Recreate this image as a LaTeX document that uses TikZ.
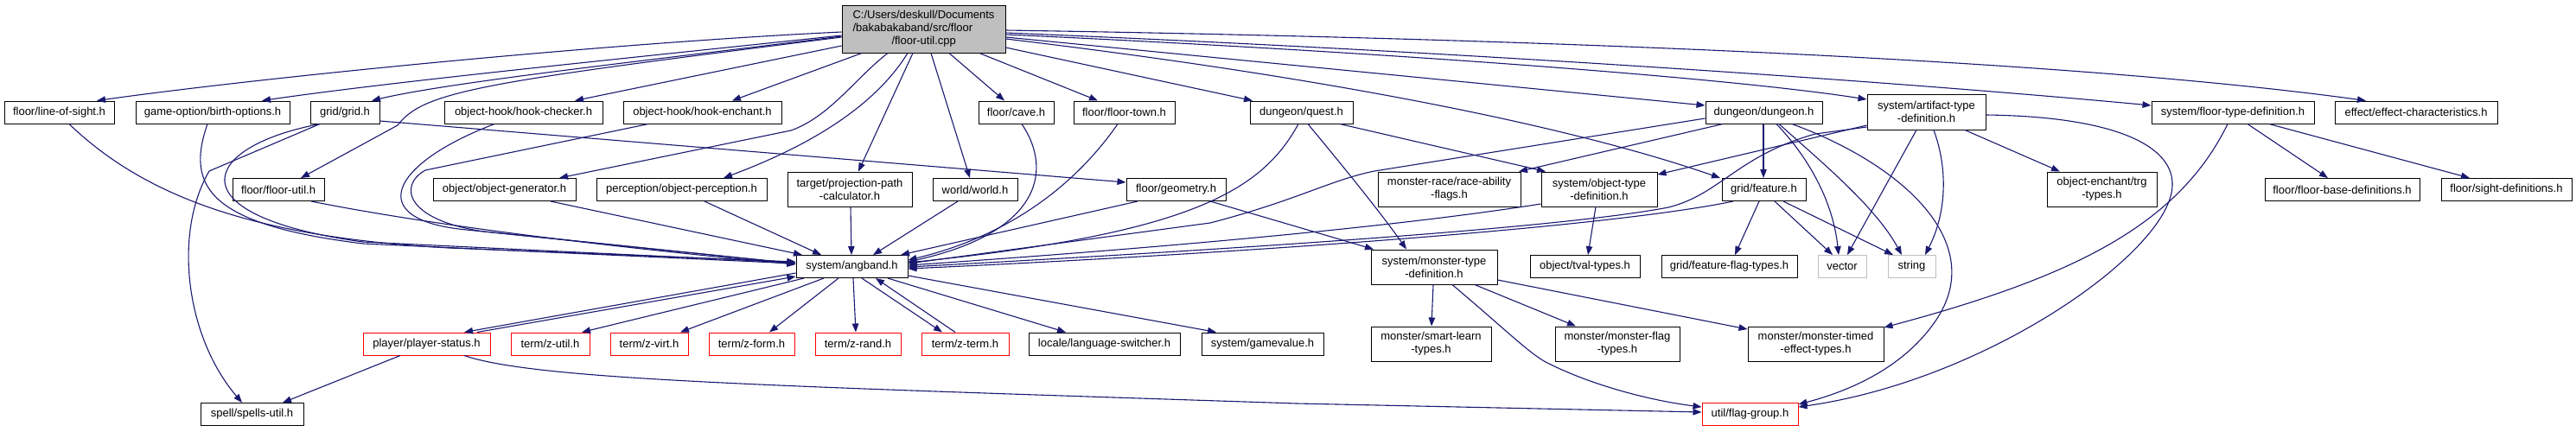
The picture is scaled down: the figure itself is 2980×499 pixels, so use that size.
\documentclass[tikz,border=0pt]{standalone}
\usepackage{fontspec}
\setmainfont{Liberation Sans}
\usetikzlibrary{arrows.meta}
\definecolor{edgec}{HTML}{191970}
\definecolor{mainfill}{HTML}{BFBFBF}
\definecolor{graybd}{HTML}{BFBFBF}
\tikzset{
  nd/.style={draw=black, line width=1pt, inner sep=0pt, align=center,
    font=\fontsize{13}{15}\selectfont, minimum height=26pt},
  rednd/.style={nd, draw=red},
  graynd/.style={nd, draw=graybd},
  tall/.style={minimum height=40pt},
  edge/.style={draw=edgec, line width=1.1pt, -{Triangle[length=10pt,width=7.5pt]}}
}
\begin{document}
\begin{tikzpicture}[x=1pt,y=-1pt]
\fill[white] (0,0) rectangle (2980,499);
\useasboundingbox (0,0) rectangle (2980,499);
% nodes
\node[nd, fill=mainfill, minimum width=189pt, minimum height=55pt, align=left] (main) at (1068.5,33.5)
  {C:/Users/deskull/Documents\\/bakabakaband/src/floor\\\hspace*{45pt}/floor-util.cpp};
\node[nd, minimum width=127pt] (los) at (68.5,130) {floor/line-of-sight.h};
\node[nd, minimum width=178pt] (birth) at (246,130) {game-option/birth-options.h};
\node[nd, minimum width=80pt] (grid) at (399,130) {grid/grid.h};
\node[nd, minimum width=183pt] (hookc) at (605.5,130) {object-hook/hook-checker.h};
\node[nd, minimum width=183pt] (hooke) at (812.5,130) {object-hook/hook-enchant.h};
\node[nd, minimum width=87pt] (cave) at (1175.5,130) {floor/cave.h};
\node[nd, minimum width=117pt] (town) at (1300.5,130) {floor/floor-town.h};
\node[nd, minimum width=119pt] (quest) at (1505.5,130) {dungeon/quest.h};
\node[nd, minimum width=135pt] (dungeon) at (2040.5,130) {dungeon/dungeon.h};
\node[nd, tall, minimum width=137pt, minimum height=41pt] (artifact) at (2228.5,129.5) {system/artifact-type\\-definition.h};
\node[nd, minimum width=188pt] (floortype) at (2583,130) {system/floor-type-definition.h};
\node[nd, minimum width=188pt] (effect) at (2795,130) {effect/effect-characteristics.h};
\node[nd, minimum width=106pt] (futil) at (322,219.5) {floor/floor-util.h};
\node[nd, minimum width=165pt] (objgen) at (583.5,219.5) {object/object-generator.h};
\node[nd, minimum width=197pt] (percep) at (788.5,219.5) {perception/object-perception.h};
\node[nd, tall, minimum width=144pt] (proj) at (983,219) {target/projection-path\\-calculator.h};
\node[nd, minimum width=98pt] (world) at (1128,219.5) {world/world.h};
\node[nd, minimum width=115pt] (geom) at (1360.5,219.5) {floor/geometry.h};
\node[nd, tall, minimum width=165pt] (race) at (1676.5,219) {monster-race/race-ability\\-flags.h};
\node[nd, tall, minimum width=134pt] (objtype) at (1850,219) {system/object-type\\-definition.h};
\node[nd, minimum width=97pt] (feature) at (2040.5,219.5) {grid/feature.h};
\node[nd, tall, minimum width=127pt] (trg) at (2431.5,219) {object-enchant/trg\\-types.h};
\node[nd, minimum width=179pt] (fbase) at (2709.5,219.5) {floor/floor-base-definitions.h};
\node[nd, minimum width=151pt] (sight) at (2899.5,219.5) {floor/sight-definitions.h};
\node[nd, minimum width=129pt] (angband) at (985.5,308.5) {system/angband.h};
\node[nd, tall, minimum width=146pt] (montype) at (1659,309) {system/monster-type\\-definition.h};
\node[nd, minimum width=127pt] (tval) at (1833.5,308.5) {object/tval-types.h};
\node[nd, minimum width=157pt] (fflag) at (2000.5,308.5) {grid/feature-flag-types.h};
\node[graynd, minimum width=56pt] (vector) at (2131,308.5) {vector};
\node[graynd, minimum width=55pt] (string) at (2211.5,308.5) {string};
\node[rednd, minimum width=147pt] (pstatus) at (493.5,398) {player/player-status.h};
\node[rednd, minimum width=91pt] (zutil) at (636.5,398) {term/z-util.h};
\node[rednd, minimum width=90pt] (zvirt) at (751,398) {term/z-virt.h};
\node[rednd, minimum width=99pt] (zform) at (869.5,398) {term/z-form.h};
\node[rednd, minimum width=99pt] (zrand) at (992.5,398) {term/z-rand.h};
\node[rednd, minimum width=101pt] (zterm) at (1116.5,398) {term/z-term.h};
\node[nd, minimum width=175pt] (lang) at (1277.5,398) {locale/language-switcher.h};
\node[nd, minimum width=141pt] (gameval) at (1460.5,398) {system/gamevalue.h};
\node[nd, tall, minimum width=139pt] (smart) at (1655.5,398) {monster/smart-learn\\-types.h};
\node[nd, tall, minimum width=144pt] (mflag) at (1871,398) {monster/monster-flag\\-types.h};
\node[nd, tall, minimum width=157pt] (timed) at (2100.5,398) {monster/monster-timed\\-effect-types.h};
\node[nd, minimum width=119pt] (spells) at (291.5,479.5) {spell/spells-util.h};
\node[rednd, minimum width=111pt] (flaggrp) at (2024.5,479.5) {util/flag-group.h};

% edges from main
\draw[edge] (main.west |- 0,37) .. controls (700,50) and (300,90) .. (los.north -| 112,0);
\draw[edge] (main.west |- 0,41) .. controls (700,70) and (450,95) .. (birth.north -| 303,0);
\draw[edge] (main.west |- 0,42) .. controls (750,70) and (520,95) .. (grid.north -| 430,0);
\draw[edge] (main.west |- 0,43) .. controls (560,95) and (490,105) .. (460,145) -- (futil.north -| 348,0);
\draw[edge] (main.west |- 0,53) -- (hookc.north -| 665,0);
\draw[edge] (main.south -| 997,0) -- (hooke.north -| 847,0);
\draw[edge] (main.south -| 1027,0) .. controls (990,90) and (960,135) .. (915,151) -- (objgen.north -| 647,0);
\draw[edge] (main.south -| 1050,0) .. controls (1020,110) and (960,160) .. (percep.north -| 837,0);
\draw[edge] (main.south -| 1056,0) -- (proj.north -| 993,0);
\draw[edge] (main.south -| 1077,0) -- (world.north -| 1122,0);
\draw[edge] (main.south -| 1098,0) -- (cave.north -| 1162,0);
\draw[edge] (main.south -| 1133,0) -- (town.north -| 1270,0);
\draw[edge] (main.east |- 0,55) -- (quest.north -| 1449,0);
\draw[edge] (main.east |- 0,43) -- (dungeon.west |- 0,122);
\draw[edge] (main.east |- 0,45) .. controls (1500,85) and (1800,140) .. (feature.north -| 1990,0);
\draw[edge] (main.east |- 0,40) .. controls (1600,60) and (2000,90) .. (artifact.west |- 0,115);
\draw[edge] (main.east |- 0,38) .. controls (1700,60) and (2200,95) .. (floortype.west |- 0,122);
\draw[edge] (main.east |- 0,35) .. controls (1800,45) and (2400,70) .. (effect.north -| 2737,0);

% into angband
\draw[edge] (los.south -| 80,0) .. controls (170,230) and (300,275) .. (520,287) -- (angband.west |- 0,303);
\draw[edge] (birth.south -| 240,0) .. controls (215,215) and (240,260) .. (420,282) -- (angband.west |- 0,305);
\draw[edge] (grid.south -| 370,0) .. controls (230,170) and (200,250) .. (420,280) -- (angband.west |- 0,304);
\draw[edge] (grid.south -| 370,0) -- (242,198) .. controls (200,270) and (215,390) .. (spells.north -| 280,0);
\draw[edge] (grid.east |- 0,140) -- (geom.west |- 0,211);
\draw[edge] (futil.south -| 360,0) .. controls (520,265) and (750,290) .. (angband.west |- 0,306);
\draw[edge] (hookc.south -| 572,0) .. controls (450,190) and (420,255) .. (540,266) -- (angband.west |- 0,305);
\draw[edge] (hooke.south -| 750,0) -- (492,197) .. controls (460,215) and (470,255) .. (560,268) -- (angband.west |- 0,305);
\draw[edge] (objgen.south -| 637,0) -- (angband.north -| 928,0);
\draw[edge] (percep.south -| 815,0) -- (angband.north -| 950,0);
\draw[edge] (proj.south -| 984,0) -- (angband.north -| 985,0);
\draw[edge] (world.south -| 1108,0) -- (angband.north -| 1010,0);
\draw[edge] (cave.south -| 1182,0) .. controls (1220,200) and (1200,270) .. (angband.east |- 0,303);
\draw[edge] (town.south -| 1293,0) .. controls (1240,220) and (1160,275) .. (angband.east |- 0,301);
\draw[edge] (geom.south -| 1316,0) -- (angband.north -| 1042,0);
\draw[edge] (quest.south -| 1502,0) .. controls (1460,220) and (1380,270) .. (angband.east |- 0,304);
\draw[edge] (dungeon.west |- 0,137) -- (1590,198) .. controls (1540,208) and (1500,232) .. (1400,258) -- (angband.east |- 0,305);
\draw[edge] (objtype.west |- 0,236) .. controls (1600,265) and (1300,290) .. (angband.east |- 0,307);
\draw[edge] (artifact.west |- 0,147) -- (2100,155) .. controls (2010,180) and (1990,225) .. (1930,240) .. controls (1800,265) and (1400,290) .. (angband.east |- 0,309);
\draw[edge] (feature.south -| 2005,0) .. controls (1850,265) and (1400,295) .. (angband.east |- 0,311);
\draw[edge] (artifact.west |- 0,145) -- (objtype.east |- 0,202);

% angband out
\draw[edge] (pstatus.north -| 552,0) -- (angband.west |- 0,320);
\draw[edge] (angband.west |- 0,316) -- (pstatus.north -| 537,0);
\draw[edge] (angband.south -| 930,0) -- (zutil.north -| 673,0);
\draw[edge] (angband.south -| 953,0) -- (zvirt.north -| 787,0);
\draw[edge] (angband.south -| 970,0) -- (zform.north -| 890,0);
\draw[edge] (angband.south -| 987,0) -- (zrand.north -| 990,0);
\draw[edge] (angband.south -| 997,0) -- (zterm.north -| 1090,0);
\draw[edge] (zterm.north -| 1105,0) -- (angband.south -| 1013,0);
\draw[edge] (angband.south -| 1027,0) -- (lang.north -| 1233,0);
\draw[edge] (angband.east |- 0,319) -- (gameval.north -| 1407,0);
\draw[edge] (pstatus.south -| 463,0) -- (spells.north -| 327,0);
\draw[edge] (pstatus.south -| 537,0) .. controls (620,440) and (900,447) .. (1500,467) -- (flaggrp.west |- 0,477);

% others
\draw[edge] (quest.south -| 1513,0) .. controls (1560,200) and (1600,250) .. (montype.north -| 1627,0);
\draw[edge] (quest.south -| 1550,0) -- (objtype.north -| 1788,0);
\draw[edge] (dungeon.south -| 1993,0) -- (race.north -| 1757,0);
\draw[edge] (dungeon.south -| 2040,0) -- (feature.north -| 2040,0);
\draw[edge] (dungeon.south -| 2055,0) .. controls (2090,180) and (2120,230) .. (vector.north -| 2127,0);
\draw[edge] (dungeon.south -| 2058,0) .. controls (2110,190) and (2170,240) .. (string.north -| 2200,0);
\draw[edge] (dungeon.south -| 2073,0) .. controls (2200,190) and (2300,280) .. (2240,370) .. controls (2200,430) and (2130,455) .. (flaggrp.east |- 0,468);
\draw[edge] (artifact.south -| 2217,0) -- (vector.north -| 2137,0);
\draw[edge] (artifact.south -| 2237,0) .. controls (2255,200) and (2250,250) .. (string.north -| 2227,0);
\draw[edge] (artifact.south -| 2273,0) -- (trg.north -| 2383,0);
\draw[edge] (artifact.east |- 0,133) .. controls (2450,135) and (2515,170) .. (2513,215) .. controls (2511,290) and (2300,440) .. (flaggrp.east |- 0,471);
\draw[edge] (floortype.south -| 2577,0) .. controls (2520,260) and (2400,320) .. (timed.east |- 0,379);
\draw[edge] (floortype.south -| 2600,0) -- (fbase.north -| 2693,0);
\draw[edge] (floortype.south -| 2625,0) -- (sight.north -| 2857,0);
\draw[edge] (feature.south -| 2035,0) -- (fflag.north -| 2007,0);
\draw[edge] (feature.south -| 2053,0) -- (vector.north -| 2120,0);
\draw[edge] (feature.south -| 2063,0) -- (string.north -| 2190,0);
\draw[edge] (objtype.south -| 1846,0) -- (tval.north -| 1837,0);
\draw[edge] (montype.south -| 1658,0) -- (smart.north -| 1656,0);
\draw[edge] (montype.south -| 1706,0) -- (mflag.north -| 1823,0);
\draw[edge] (montype.east |- 0,324) -- (timed.west |- 0,381);
\draw[edge] (montype.south -| 1680,0) .. controls (1740,380) and (1770,410) .. (1790,420) .. controls (1850,450) and (1920,465) .. (flaggrp.west |- 0,471);
\draw[edge] (geom.south -| 1400,0) -- (montype.north -| 1589,0);
\end{tikzpicture}
\end{document}
